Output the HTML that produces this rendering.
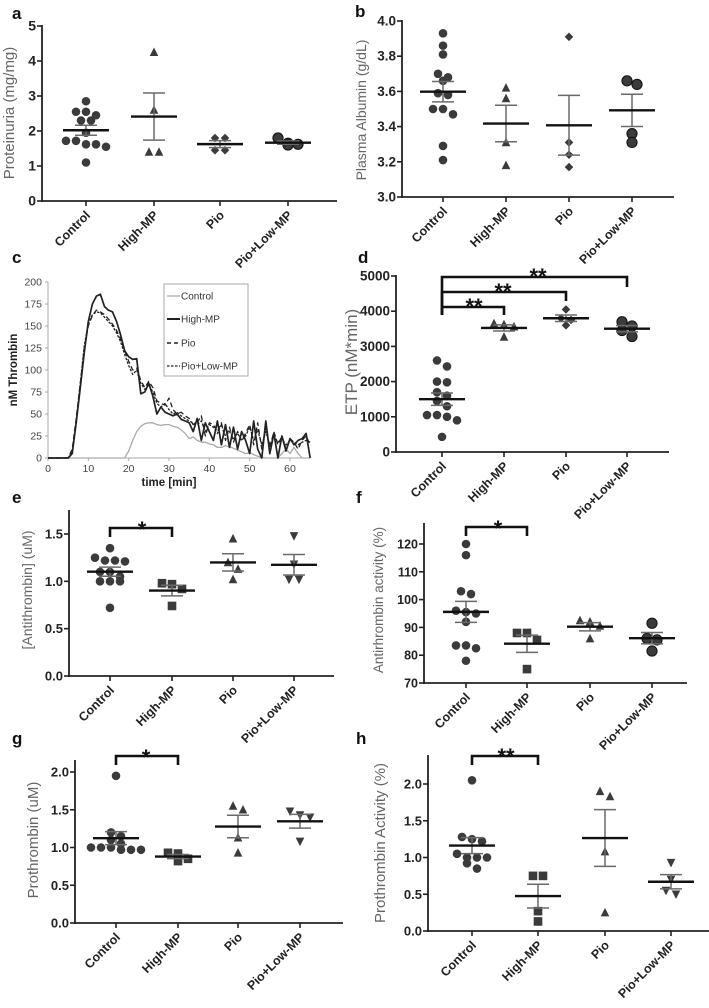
<!DOCTYPE html>
<html><head><meta charset="utf-8">
<style>
html,body{margin:0;padding:0;background:#fff;}
svg{display:block;font-family:"Liberation Sans",Arial,sans-serif;}
</style></head>
<body>
<svg id="fig" width="709" height="1008" viewBox="0 0 709 1008" xmlns="http://www.w3.org/2000/svg"></svg>
<script>
const categories = ["Control","High-MP","Pio","Pio+Low-MP"];

// Panel a: Proteinuria
const aControl = [2.85,2.55,2.55,2.45,2.3,2.3,1.95,1.72,1.72,1.62,1.55,1.62,1.1];
const aHigh = [4.25,2.6,1.4,1.4];
const aPio = [1.8,1.8,1.45,1.45];
const aPioLow = [1.8,1.6,1.65,1.62];
const aTicks = ["0","1","2","3","4","5"];

// Panel b: Plasma albumin
const bControl = [3.93,3.86,3.81,3.70,3.66,3.68,3.58,3.59,3.50,3.47,3.50,3.29,3.21];
const bHigh = [3.62,3.56,3.31,3.18];
const bPio = [3.91,3.31,3.24,3.17];
const bPioLow = [3.64,3.66,3.36,3.31];
const bTicks = ["3.0","3.2","3.4","3.6","3.8","4.0"];

// Panel c: thrombin generation curves
const cTime = [];
for (let i = 0; i <= 65; i++) cTime.push(i);
const cHigh = [0,0,0,0,0,0,5,40,80,120,155,175,184,186,172,168,166,155,140,122,115,112,113,73,75,85,70,50,58,52,50,48,50,44,42,40,30,45,20,40,30,20,42,15,38,12,35,10,30,20,5,42,10,0,42,5,28,0,25,8,22,15,20,22,28,0];
const cPio = [0,0,0,0,0,0,10,45,85,125,150,162,168,166,163,158,152,145,135,122,110,100,102,88,80,87,80,65,62,60,68,55,50,52,48,45,38,40,48,25,40,38,30,40,20,35,18,30,20,28,38,15,40,10,35,12,30,15,25,10,22,18,10,20,25,15];
const cPioLow = [0,0,0,0,0,0,8,42,85,128,152,163,166,165,160,155,150,142,132,118,105,95,100,85,78,83,75,62,58,62,55,50,52,48,45,42,40,38,42,30,38,35,28,38,25,30,22,28,20,25,35,20,32,15,30,15,25,18,22,15,20,18,15,18,20,18];
const cControl = [0,0,0,0,0,0,0,0,0,0,0,0,0,0,0,0,0,0,0,0,8,20,30,36,39,40,40,38,37,38,38,36,35,32,28,22,24,20,18,18,16,15,12,12,14,13,11,9,7,5,6,4,2,1,0,0,0,0,5,10,5,12,5,0,0,0];
const cYTicks = ["0","25","50","75","100","125","150","175","200"];
const cXTicks = ["0","10","20","30","40","50","60"];

// Panel d: ETP
const dControl = [2600,2430,1980,2000,1700,1600,1450,1300,1050,1000,1050,900,430];
const dHigh = [3650,3620,3560,3270];
const dPio = [4050,3750,3800,3600];
const dPioLow = [3700,3580,3450,3280];
const dTicks = ["0","1000","2000","3000","4000","5000"];

// Panel e: Antithrombin
const eControl = [1.35,1.25,1.22,1.22,1.21,1.10,1.10,1.05,1.00,1.00,1.00,0.72];
const eHigh = [0.97,0.98,0.92,0.74];
const ePio = [1.45,1.20,1.02,1.13];
const ePioLow = [1.48,1.18,1.02,1.02];
const eTicks = ["0.0","0.5","1.0","1.5"];

// Panel f: Antithrombin activity
const fControl = [120,116,102,103,95.5,96,95,92,83.5,82.5,83.5,78];
const fHigh = [88,88,85.5,75];
const fPio = [92.5,92,90.5,86];
const fPioLow = [91.5,86,85.5,81.5];
const fTicks = ["70","80","90","100","110","120"];

// Panel g: Prothrombin
const gControl = [1.95,1.20,1.15,1.10,1.05,1.0,1.0,0.97,0.97,0.97,1.0];
const gHigh = [0.93,0.92,0.85,0.82];
const gPio = [1.55,1.50,1.13,0.93];
const gPioLow = [1.48,1.43,1.40,1.08];
const gTicks = ["0.0","0.5","1.0","1.5","2.0"];

// Panel h: Prothrombin activity
const hControl = [2.05,1.28,1.25,1.22,1.05,1.0,1.0,1.0,0.92,0.85];
const hHigh = [0.75,0.75,0.27,0.13];
const hPio = [1.90,1.83,1.08,0.25];
const hPioLow = [0.93,0.70,0.55,0.50];
const hTicks = ["0.0","0.5","1.0","1.5","2.0"];

const NS = "http://www.w3.org/2000/svg";
const svg = document.getElementById("fig");
function mk(tag, attrs, parent, text) {
  const e = document.createElementNS(NS, tag);
  for (const k in attrs) e.setAttribute(k, attrs[k]);
  if (text !== undefined) e.textContent = text;
  (parent || svg).appendChild(e);
  return e;
}
const MC = "#3b3b3b";
function marker(g, shape, x, y, r) {
  let el;
  if (shape === "circle") el = mk("circle", {cx:x, cy:y, r:r, fill:MC}, g);
  else if (shape === "bigcircle") el = mk("circle", {cx:x, cy:y, r:r+0.8, fill:MC, stroke:"#111", "stroke-width":1}, g);
  else if (shape === "square") el = mk("rect", {x:x-r, y:y-r, width:2*r, height:2*r, fill:MC}, g);
  else if (shape === "tri") el = mk("polygon", {points:`${x},${y-r-0.5} ${x-r},${y+r-0.5} ${x+r},${y+r-0.5}`, fill:MC}, g);
  else if (shape === "dtri") el = mk("polygon", {points:`${x},${y+r+0.5} ${x-r},${y-r+0.5} ${x+r},${y-r+0.5}`, fill:MC}, g);
  else if (shape === "diamond") el = mk("polygon", {points:`${x},${y-r} ${x+r},${y} ${x},${y+r} ${x-r},${y}`, fill:MC}, g);
  
  
  return el;
}

function dotPanel(L, groups, shapes, ticks, title) {
  const g = mk("g", {});
  
  
  const yScale = v => L.y0 + (v - L.vmin) / (L.vmax - L.vmin) * (L.y1 - L.y0);
  // panel letter
  const pl = mk("text", {x:L.lx, y:L.ly, "font-size":17, "font-weight":"bold", fill:"#111"}, g, L.letter);
  
  
  // axes
  const ya = mk("line", {x1:L.ax, y1:L.top, x2:L.ax, y2:L.y0+1, stroke:"#222", "stroke-width":1.8}, g);
  
  
  const xa = mk("line", {x1:L.ax-1, y1:L.y0, x2:L.right, y2:L.y0, stroke:"#222", "stroke-width":1.8}, g);
  
  
  ticks.forEach(t => {
    const y = yScale(parseFloat(t));
    mk("line", {x1:L.ax-5, y1:y, x2:L.ax, y2:y, stroke:"#222", "stroke-width":1.6}, g);
    const tl = mk("text", {x:L.ax-6, y:y+4.5, "font-size":L.tfs, "font-weight":"bold", "text-anchor":"end", fill:"#222"}, g, t);
    
    
  });
  // y title
  const yt = mk("text", {x:0, y:0, "font-size":L.yfs, fill:"#666", "text-anchor":"middle", transform:`translate(${L.ytx},${L.yty}) rotate(-90)`}, g, title);
  
  
  // categories
  categories.forEach((c, i) => {
    const x = L.cx[i];
    mk("line", {x1:x, y1:L.y0, x2:x, y2:L.y0+5, stroke:"#222", "stroke-width":1.6}, g);
    const cl = mk("text", {x:0, y:0, "font-size":12.5, "font-weight":"bold", "text-anchor":"end", fill:"#222", transform:`translate(${x+5},${L.y0+15}) rotate(-45)`}, g, c);
    
    
  });
  // groups
  groups.forEach((vals, gi) => {
    const cx = L.cx[gi];
    const n = vals.length;
    const mean = vals.reduce((a,b)=>a+b,0)/n;
    const sd = Math.sqrt(vals.reduce((a,b)=>a+(b-mean)*(b-mean),0)/(n-1));
    const sem = sd/Math.sqrt(n);
    // jitter by clustering
    const sorted = vals.slice().sort((a,b)=>b-a);
    const clusters = [];
    sorted.forEach(v => {
      const y = yScale(v);
      const last = clusters[clusters.length-1];
      if (last && Math.abs(yScale(last[0]) - y) < 7) last.push(v); else clusters.push([v]);
    });
    clusters.forEach(cl => {
      cl.forEach((v, k) => {
        const x = cx + (k - (cl.length-1)/2) * 10;
        marker(g, shapes[gi], x, yScale(v), 4.3);
      });
    });
    const ym = yScale(mean), yu = yScale(mean+sem), yl = yScale(mean-sem);
    const eb = mk("path", {d:`M${cx},${yu}V${yl}M${cx-11},${yu}H${cx+11}M${cx-11},${yl}H${cx+11}`, stroke:"#6a6a6a", "stroke-width":1.5, fill:"none"}, g);
    
    
    const ml = mk("line", {x1:cx-23, y1:ym, x2:cx+23, y2:ym, stroke:"#111", "stroke-width":2.4}, g);
    
    
  });
  return g;
}
function bracket(x1, x2, yTop, yL, yR, stars, sx, sy, fs) {
  const b = mk("path", {d:`M${x1},${yL}V${yTop}H${x2}V${yR}`, stroke:"#111", "stroke-width":2.6, fill:"none"});
  
  
  const s = mk("text", {x:sx, y:sy, "font-size":fs, "font-weight":"bold", "text-anchor":"middle", fill:"#111"}, svg, stars);
  
  
}

// Panel a
dotPanel({letter:"a", lx:12, ly:19, ax:42, top:25, right:337, y0:201, y1:26, vmin:0, vmax:5, tfs:14, yfs:15, ytx:14, yty:113, cx:[86,154,220,288]},
  [aControl,aHigh,aPio,aPioLow], ["circle","tri","diamond","bigcircle"], aTicks, "Proteinuria (mg/mg)");
// Panel b
dotPanel({letter:"b", lx:355, ly:17, ax:402, top:20, right:674, y0:197, y1:21, vmin:3.0, vmax:4.0, tfs:13.5, yfs:14, ytx:366, yty:110, cx:[443,506,569,632]},
  [bControl,bHigh,bPio,bPioLow], ["circle","tri","diamond","bigcircle"], bTicks, "Plasma Albumin (g/dL)");
// Panel d
dotPanel({letter:"d", lx:358, ly:263, ax:396, top:275, right:669, y0:452, y1:276, vmin:0, vmax:5000, tfs:13.5, yfs:17, ytx:357, yty:362, cx:[442,504,566,627]},
  [dControl,dHigh,dPio,dPioLow], ["circle","tri","diamond","bigcircle"], dTicks, "ETP (nM*min)");
bracket(442,627,277,315,287,"**",538,284,22);
bracket(442,566,292,315,301,"**",503,299,22);
bracket(442,504,307,315,315,"**",474,314,22);
// Panel e
dotPanel({letter:"e", lx:12, ly:503, ax:69, top:510, right:334, y0:676, y1:534, vmin:0, vmax:1.5, tfs:13, yfs:14, ytx:32, yty:590, cx:[110,172,233,294]},
  [eControl,eHigh,ePio,ePioLow], ["circle","square","tri","dtri"], eTicks, "[Antithrombin] (uM)");
bracket(110,172,528,537,537,"*",142,537,22);
// Panel f
dotPanel({letter:"f", lx:356, ly:503, ax:424, top:523, right:687, y0:683, y1:544, vmin:70, vmax:120, tfs:12.5, yfs:13.5, ytx:383, yty:600, cx:[466,527,590,652]},
  [fControl,fHigh,fPio,fPioLow], ["circle","square","tri","bigcircle"], fTicks, "Antirhrombin activity (%)");
bracket(466,527,527,536,536,"*",498,536,22);
// Panel g
dotPanel({letter:"g", lx:12, ly:744, ax:75, top:760, right:343, y0:923, y1:772, vmin:0, vmax:2.0, tfs:13, yfs:15, ytx:38, yty:840, cx:[116,178,238,300]},
  [gControl,gHigh,gPio,gPioLow], ["circle","square","tri","dtri"], gTicks, "Prothrombin (uM)");
bracket(116,178,756,765,765,"*",146,765,22);
// Panel h
dotPanel({letter:"h", lx:356, ly:744, ax:428, top:755, right:709, y0:931, y1:784, vmin:0, vmax:2.0, tfs:13, yfs:15, ytx:385, yty:843, cx:[472,538,605,671]},
  [hControl,hHigh,hPio,hPioLow], ["circle","square","tri","dtri"], hTicks, "Prothrombin Activity (%)");
bracket(472,538,756,765,765,"**",506,764,22);

// Panel c: line chart
(function(){
  const g = mk("g", {});
  
  
  const X0 = 48, XPER = (290-48)/60, Y0 = 458, YPER = (458-282)/200;
  const xs = t => X0 + t*XPER, ys = v => Y0 - v*YPER;
  const pl = mk("text", {x:12, y:263, "font-size":17, "font-weight":"bold", fill:"#111"}, g, "c");
  
  
  const ya = mk("line", {x1:X0, y1:ys(200), x2:X0, y2:Y0, stroke:"#aaa", "stroke-width":1}, g);
  
  
  const xa = mk("line", {x1:X0, y1:Y0, x2:xs(65), y2:Y0, stroke:"#aaa", "stroke-width":1}, g);
  
  
  cYTicks.forEach(t => {
    const y = ys(parseFloat(t));
    mk("line", {x1:X0-3, y1:y, x2:X0, y2:y, stroke:"#aaa"}, g);
    const tl = mk("text", {x:X0-6, y:y+3.5, "font-size":10.5, "text-anchor":"end", fill:"#444"}, g, t);
    
    
  });
  cXTicks.forEach(t => {
    const x = xs(parseFloat(t));
    mk("line", {x1:x, y1:Y0, x2:x, y2:Y0+3, stroke:"#aaa"}, g);
    const tl = mk("text", {x:x, y:Y0+14, "font-size":10.5, "text-anchor":"middle", fill:"#444"}, g, t);
    
    
  });
  const xt = mk("text", {x:xs(30), y:486, "font-size":11.5, "font-weight":"bold", "text-anchor":"middle", fill:"#222"}, g, "time [min]");
  
  
  const yt = mk("text", {x:0, y:0, "font-size":11.5, "font-weight":"bold", "text-anchor":"middle", fill:"#222", transform:`translate(17,370) rotate(-90)`}, g, "nM Thrombin");
  
  
  const series = [
    {name:"Control", vals:cControl, stroke:"#aaa", w:1.3, dash:""},
    {name:"Pio", vals:cPio, stroke:"#222", w:1.3, dash:"5,3"},
    {name:"Pio+Low-MP", vals:cPioLow, stroke:"#222", w:1.3, dash:"2.5,1.5"},
    {name:"High-MP", vals:cHigh, stroke:"#222", w:1.7, dash:""}
  ];
  series.forEach(s => {
    const pts = s.vals.map((v,i) => xs(cTime[i]).toFixed(1)+","+ys(v).toFixed(1)).join(" ");
    const p = mk("polyline", {points:pts, fill:"none", stroke:s.stroke, "stroke-width":s.w, "stroke-dasharray":s.dash, "stroke-linejoin":"round"}, g);
    
    
  });
  const lg = mk("g", {}, g);
  
  
  mk("rect", {x:164, y:284, width:84, height:92, fill:"#fff", stroke:"#aaa", "stroke-width":1}, lg);
  const leg = [
    {name:"Control", y:296, stroke:"#aaa", w:1.3, dash:""},
    {name:"High-MP", y:319, stroke:"#222", w:2, dash:""},
    {name:"Pio", y:343, stroke:"#222", w:1.5, dash:"4,3"},
    {name:"Pio+Low-MP", y:366, stroke:"#222", w:1.3, dash:"2.5,1.5"}
  ];
  leg.forEach(e => {
    const le = mk("g", {}, lg);
    
    
    mk("line", {x1:167, y1:e.y, x2:180, y2:e.y, stroke:e.stroke, "stroke-width":e.w, "stroke-dasharray":e.dash}, le);
    mk("text", {x:181, y:e.y+3.5, "font-size":10, fill:"#333"}, le, e.name);
  });
})();
</script>
</body></html>
